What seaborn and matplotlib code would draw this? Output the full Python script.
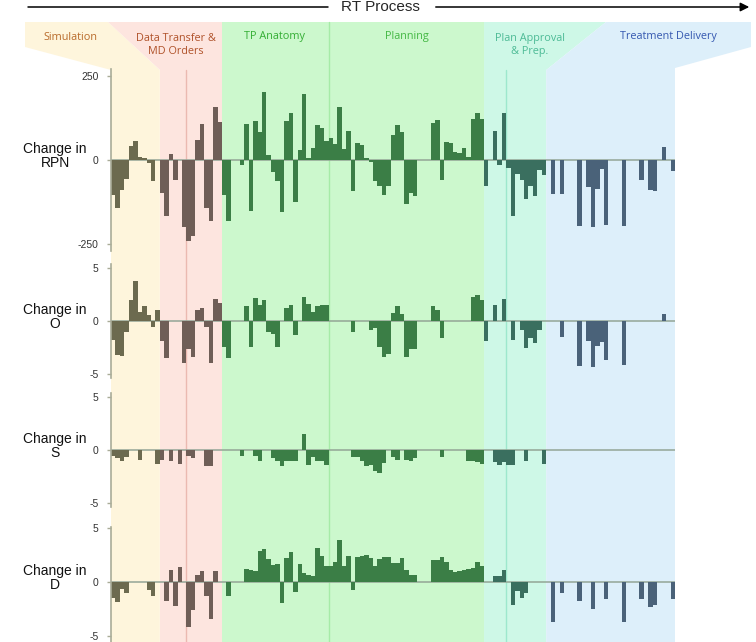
import matplotlib
matplotlib.use("Agg")
import matplotlib.pyplot as plt
import seaborn as sns
import pandas as pd
from matplotlib.patches import Polygon, FancyArrowPatch
from matplotlib.lines import Line2D

# ---------------- data ----------------
regions = ["Simulation", "Data Transfer & MD Orders", "TP Anatomy", "Planning",
           "Plan Approval & Prep.", "Treatment Delivery"]
region_sizes = [11, 14, 24, 35, 14, 29]

rpn_sim = [-105, -142, -90, -55, 42, 57, 10, 7, -10, -62, 0]
rpn_dt = [-97, -165, 18, -58, 0, -198, -240, -225, 58, 107, -142, -182, 158, 113]
rpn_tp = [-105, -182, 0, 0, -15, 107, -152, 115, 82, 202, 15, -35, -63, -155, 115, 140,
          -125, 30, 197, 7, 35, 105, 95, 57]
rpn_plan = [65, 48, 158, 33, 85, -93, 50, 45, 7, -5, -62, -78, -105, -78, 75, 105, 82,
            -132, -98, -107, 0, 0, 0, 110, 118, -60, 53, 50, 25, 22, 35, 10, 123, 138, 122]
rpn_pa = [-77, 0, 85, -15, 138, -25, -165, -43, -60, -115, -78, -107, -30, -45]
rpn_td = [0, -100, 0, -100, 0, 0, 0, -195, 0, -80, -200, -87, -28, -192, 0, 0, 0, -195,
          0, 0, 0, -60, 0, -88, -92, 0, 38, 0, -32]

o_sim = [-1.8, -3.2, -3.3, -1.0, 1.95, 3.8, 0.85, 1.4, 0.6, -0.55, 1.0]
o_dt = [-1.9, -3.55, 0, 0, 0, -4.0, -2.7, -3.45, 1.0, 1.25, -0.6, -4.0, 2.1, 1.7]
o_tp = [-2.45, -3.55, 0, 0, 0, 1.4, -2.45, 2.2, 1.55, 2.0, -1.0, -1.25, -2.45, 0, 1.25,
        1.5, -1.3, 0, 2.3, 1.65, 0.85, 1.4, 1.5, 1.5]
o_plan = [0, 0, 0, 0, 0, -1.05, 0, 0, 0, -0.9, -0.7, -2.45, -3.4, -3.1, 0.75, 1.4, 0.7,
          -3.45, -2.7, -2.7, 0, 0, 0, 1.4, 1.0, -1.6, 0, 0, 0, 0, 0, 0, 2.25, 2.5, 2.0]
o_pa = [-1.9, 0, 1.55, 0, 2.1, 0, -1.8, 0, -0.9, -2.6, -1.65, -2.1, -0.9, 0]
o_td = [0, 0, 0, -1.5, 0, 0, 0, -4.3, 0, -1.9, -4.35, -2.4, -2.0, -3.7, 0, 0, 0, -4.2,
        0, 0, 0, 0, 0, 0, 0, 0, 0.7, 0, 0]

s_sim = [-0.6, -0.75, -1.05, -0.7, 0, 0, -0.9, 0, 0, 0, -1.3]
s_dt = [-0.9, 0, -1.05, 0, -1.35, 0, -0.6, -0.8, 0, 0, -1.55, -1.55, 0, 0]
s_tp = [0, 0, 0, 0, -0.6, 0, 0, -0.55, -1.0, 0, 0, -0.8, -1.05, -1.55, -1.0, -1.0,
        -1.0, 0, 1.5, -1.4, -0.65, -1.0, -1.05, -1.45]
s_plan = [0, 0, 0, 0, 0, -0.65, -0.7, -1.05, -1.55, -1.45, -2.0, -2.2, -1.2, 0, -0.7,
          -0.9, 0, -0.9, -1.0, -0.8, 0, 0, 0, 0, 0, -0.65, 0, 0, 0, 0, 0, -1.0, -1.0,
          -1.1, -1.3]
s_pa = [0, 0, -1.1, -1.4, -1.1, -1.45, -1.45, 0, 0, -1.0, 0, 0, 0, -1.3]
s_td = [0] * 29

d_sim = [-1.45, -1.85, -0.65, -1.0, 0, 0, 0, 0, -0.7, -1.25, 0]
d_dt = [0, -1.75, 1.1, -2.25, 1.4, 0, -4.2, -2.6, 0.7, 1.0, -1.3, -3.4, 1.0, 0]
d_tp = [0, -1.25, 0, 0, 0, 1.25, 1.15, 1.0, 2.85, 3.05, 2.15, 1.6, 1.7, -1.9, 2.25,
        2.75, -0.9, 1.7, 0.85, 0.7, 0.55, 3.15, 2.4, 1.5]
d_plan = [1.5, 1.85, 3.9, 1.5, 2.4, -0.75, 2.35, 2.4, 2.5, 2.25, 1.5, 2.1, 2.3, 2.3,
          1.75, 1.75, 2.25, 1.1, 0.7, 0.7, 0, 0, 0, 2.0, 2.0, 2.35, 1.9, 1.15, 0.9,
          1.05, 1.15, 1.2, 1.3, 1.9, 1.5]
d_pa = [0, 0, 0.6, 0.6, 1.1, 0, -2.15, -0.8, -1.45, -1.0, 0, 0, 0, 0]
d_td = [0, -3.7, 0, -1.05, 0, 0, 0, -1.75, 0, 0, -2.5, 0, 0, -1.55, 0, 0, 0, -3.7,
        0, 0, 0, -1.55, 0, -2.35, -2.15, 0, 0, 0, -1.55]

panel_labels = ["Change in\nRPN", "Change in\nO", "Change in\nS", "Change in\nD"]
panel_ticks = [[-250, 0, 250], [-5, 0, 5], [-5, 0, 5], [-5, 0, 5]]
header_texts = ["Simulation", "Data Transfer &\nMD Orders", "TP Anatomy", "Planning",
                "Plan Approval\n& Prep.", "Treatment Delivery"]

# ---------------- build table ----------------
region_col = []
for r, n in zip(regions, region_sizes):
    region_col += [r] * n
df = pd.DataFrame({
    "idx": list(range(len(region_col))),
    "region": region_col,
    "RPN": rpn_sim + rpn_dt + rpn_tp + rpn_plan + rpn_pa + rpn_td,
    "O": o_sim + o_dt + o_tp + o_plan + o_pa + o_td,
    "S": s_sim + s_dt + s_tp + s_plan + s_pa + s_td,
    "D": d_sim + d_dt + d_tp + d_plan + d_pa + d_td,
})
N = len(df)

# ---------------- style ----------------
sns.set_theme(style="white")
plt.rcParams["font.family"] = ["Liberation Sans", "DejaVu Sans"]

bar_colors = {"Simulation": "#6C6A4F", "Data Transfer & MD Orders": "#6F5E57",
              "TP Anatomy": "#3B7E46", "Planning": "#3B7E46",
              "Plan Approval & Prep.": "#3A6F5F", "Treatment Delivery": "#4A6279"}
bg_colors = ["#FEF5DC", "#FDE5DF", "#CCF8CD", "#CCF8CD", "#CEF8E7", "#DDEFFA"]
head_colors = ["#B86A2A", "#B0522A", "#34AE34", "#43B843", "#4DBB96", "#3558B0"]

W, H = 756, 642
fig = plt.figure(figsize=(W / 100, H / 100), dpi=100)

def F(x, y):
    return (x / W, 1 - y / H)

X0, X1 = 111, 675
def xe(k):
    return X0 + (X1 - X0) * k / N

edges = [0]
for n in region_sizes:
    edges.append(edges[-1] + n)
ex = [xe(k) for k in edges]

TOP, FUN, BOT = 22, 70, 642
polys = [
    [(25, TOP), (108, TOP), (ex[1], FUN), (ex[1], BOT), (ex[0], BOT), (ex[0], FUN), (25, 47)],
    [(108, TOP), (ex[2], TOP), (ex[2], BOT), (ex[1], BOT), (ex[1], FUN)],
    [(ex[2], TOP), (ex[4], TOP), (ex[4], BOT), (ex[2], BOT)],
    [(ex[4], TOP), (606, TOP), (ex[5], FUN), (ex[5], BOT), (ex[4], BOT)],
    [(606, TOP), (751, TOP), (751, 47), (ex[6], 68), (ex[6], BOT), (ex[5], BOT), (ex[5], FUN)],
]
poly_cols = [bg_colors[0], bg_colors[1], bg_colors[2], bg_colors[4], bg_colors[5]]
for pts, c in zip(polys, poly_cols):
    fig.add_artist(Polygon([F(*p) for p in pts], closed=True, transform=fig.transFigure,
                           facecolor=c, edgecolor="none", zorder=-10))

# thin divider lines
for k, y0, c in [(17, FUN, "#EBB9B1"), (49, TOP, "#A6EBA7"), (89, FUN, "#9DE8CD")]:
    fig.add_artist(Line2D([xe(k) / W, xe(k) / W], [1 - y0 / H, 0], transform=fig.transFigure,
                          color=c, lw=1.0, zorder=-5))

# header labels
head_pos = [(70, 37), (176, 45), (275, 37), (407, 37), (530, 45), (668, 37)]
for t, (hx, hy), c in zip(header_texts, head_pos, head_colors):
    fig.text(hx / W, 1 - hy / H, t, ha="center", va="center", color=c, fontsize=7.8,
             family=["Open Sans", "DejaVu Sans"], linespacing=1.35)

# RT Process arrow
fig.add_artist(Line2D([28 / W, 328 / W], [1 - 7 / H, 1 - 7 / H], transform=fig.transFigure,
                      color="black", lw=1.1))
fig.add_artist(FancyArrowPatch(F(433, 7), F(752, 7), transform=fig.transFigure,
                               arrowstyle="-|>", mutation_scale=13, color="black", lw=1.1))
fig.text(380 / W, 1 - 7 / H, "RT Process", ha="center", va="center", fontsize=11)

# ---------------- panels ----------------
panels = [("RPN", 69, 251, (-270, 270)),
          ("O", 264, 378, (-5.4, 5.4)),
          ("S", 393, 507, (-5.4, 5.4)),
          ("D", 527, 642, (-5.55, 5.1))]

for (col, ytop, ybot, lim), lab, ticks in zip(panels, panel_labels, panel_ticks):
    ax = fig.add_axes([X0 / W, 1 - ybot / H, (X1 - X0) / W, (ybot - ytop) / H])
    ax.set_facecolor("none")
    ax.axhline(0, color="#93A596", lw=1.1, zorder=0.5)
    sns.barplot(data=df, x="idx", y=col, hue="region", hue_order=regions,
                palette=bar_colors, order=list(range(N)), dodge=False, width=1.0,
                saturation=1, linewidth=0, errorbar=None, legend=False, ax=ax, zorder=2)
    ax.set_xlim(-0.5, N - 0.5)
    ax.set_ylim(*lim)
    ax.set_xticks([])
    ax.set_xlabel("")
    ax.set_ylabel("")
    ax.set_yticks(ticks)
    ax.set_yticklabels([str(t) for t in ticks], fontsize=7.5, color="#333333")
    ax.tick_params(axis="y", length=3, width=1, color="#A9AC98", pad=6, left=True)
    for s in ["top", "right", "bottom"]:
        ax.spines[s].set_visible(False)
    ax.spines["left"].set_color("#A9AC98")
    ax.spines["left"].set_linewidth(1.2)
    zero_px = ytop + (ybot - ytop) * lim[1] / (lim[1] - lim[0])
    fig.text(55 / W, 1 - (zero_px - 4) / H, lab, ha="center", va="center",
             fontsize=10, linespacing=1.05, color="#111111")

fig.savefig("out.png", dpi=100)
